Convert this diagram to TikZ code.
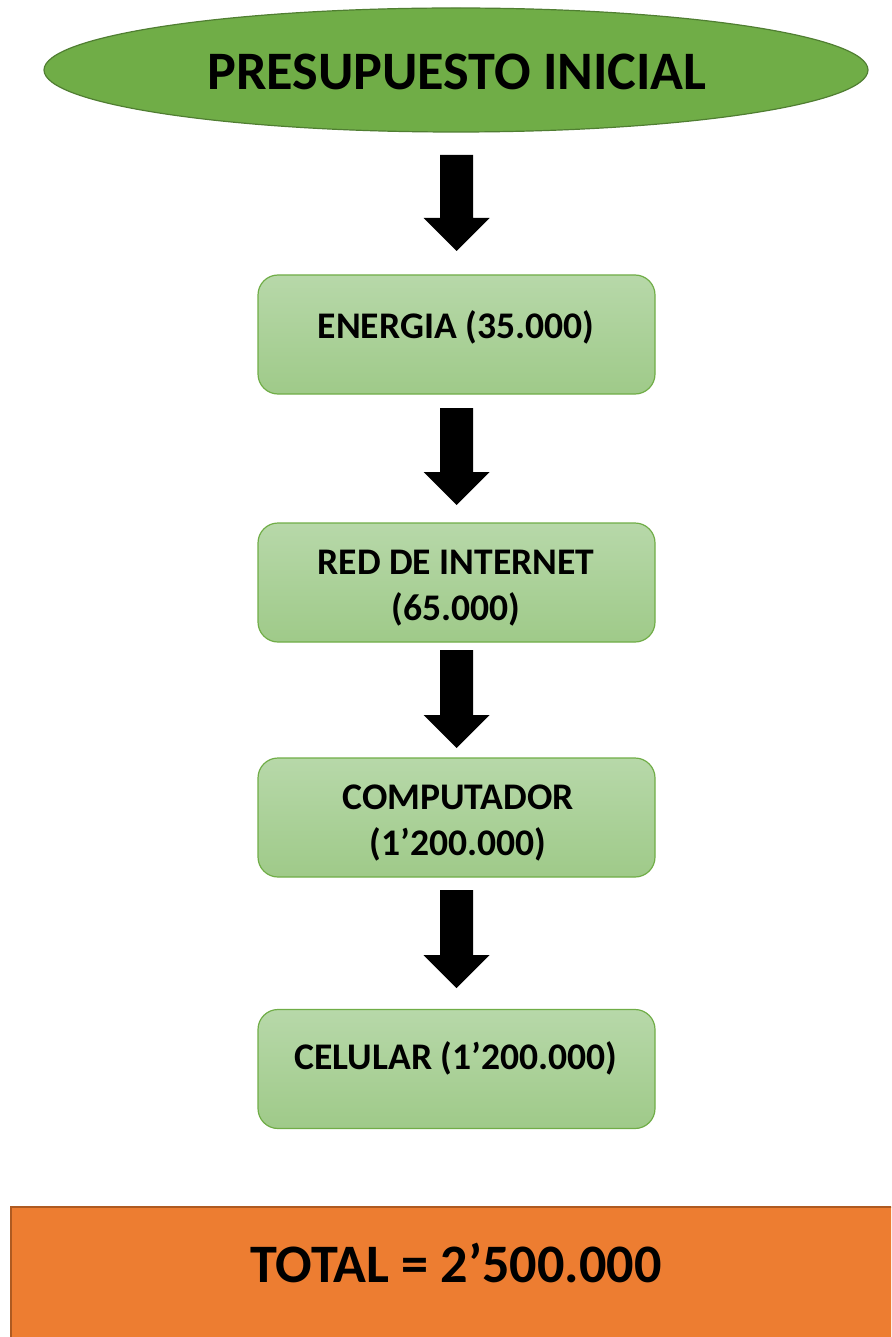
\documentclass[tikz,border=0pt]{standalone}
\usepackage{fontspec}
\setmainfont{Carlito}
\usetikzlibrary{shapes.geometric,calc}
\definecolor{ellfill}{HTML}{70AD47}
\definecolor{ellline}{HTML}{507E32}
\definecolor{boxtop}{HTML}{B7D8A9}
\definecolor{boxbot}{HTML}{9FCA89}
\definecolor{boxline}{HTML}{70AD47}
\definecolor{totfill}{HTML}{ED7D31}
\definecolor{totline}{HTML}{AE5A21}
\newcommand\blockarrow[2]{%
  \fill[black] let \p1=(#1), \p2=(#2) in
    (\x1-16.5pt,\y1) -- (\x1+16.5pt,\y1) -- (\x1+16.5pt,\y2+33pt) -- (\x1+33pt,\y2+33pt)
    -- (\x2,\y2) -- (\x1-33pt,\y2+33pt) -- (\x1-16.5pt,\y2+33pt) -- cycle;}
\begin{document}
\begin{tikzpicture}[x=1pt,y=-1pt,
  stepbox/.style={draw=boxline, line width=1.2pt, rounded corners=20pt,
    top color=boxtop, bottom color=boxbot, minimum width=397pt,
    minimum height=119pt, inner sep=0pt},
  boxtext/.style={font=\bfseries\fontsize{37.6}{46}\selectfont, align=center, inner sep=0pt},
  bigtext/.style={font=\bfseries\fontsize{54.2}{60}\selectfont, inner sep=0pt}]
\useasboundingbox (0,0) rectangle (891,1337);
\clip (0,0) rectangle (891,1337);

\node[ellipse, draw=ellline, fill=ellfill, line width=1.2pt, minimum width=824pt,
  minimum height=124pt, inner sep=0pt] (title) at (456,70) {};
\node[bigtext] (titletext) at (457,72) {PRESUPUESTO INICIAL};

\node[stepbox] (b1) at (456.5,334.5) {};
\node[boxtext] (t1) at (456,327) {ENERGIA (35.000)};

\node[stepbox] (b2) at (456.5,582.5) {};
\node[boxtext] (t2) at (456,588) {RED DE INTERNET\\(65.000)};

\node[stepbox] (b3) at (456.5,817.5) {};
\node[boxtext] (t3) at (458,823) {COMPUTADOR\\(1’200.000)};

\node[stepbox] (b4) at (456.5,1069) {};
\node[boxtext] (t4) at (456,1058) {CELULAR (1’200.000)};

\coordinate (a1s) at (456.5,155);  \coordinate (a1e) at (456.5,251);
\coordinate (a2s) at (456.5,408);  \coordinate (a2e) at (456.5,505);
\coordinate (a3s) at (456.5,650);  \coordinate (a3e) at (456.5,748);
\coordinate (a4s) at (456.5,890);  \coordinate (a4e) at (456.5,988);
\blockarrow{a1s}{a1e}
\blockarrow{a2s}{a2e}
\blockarrow{a3s}{a3e}
\blockarrow{a4s}{a4e}

\node[draw=totline, fill=totfill, line width=1.5pt, anchor=north west,
  minimum width=900pt, minimum height=150pt, inner sep=0pt] (total) at (10,1206) {};
\node[bigtext] (totaltext) at (456,1263) {TOTAL = 2’500.000};
\end{tikzpicture}
\end{document}
